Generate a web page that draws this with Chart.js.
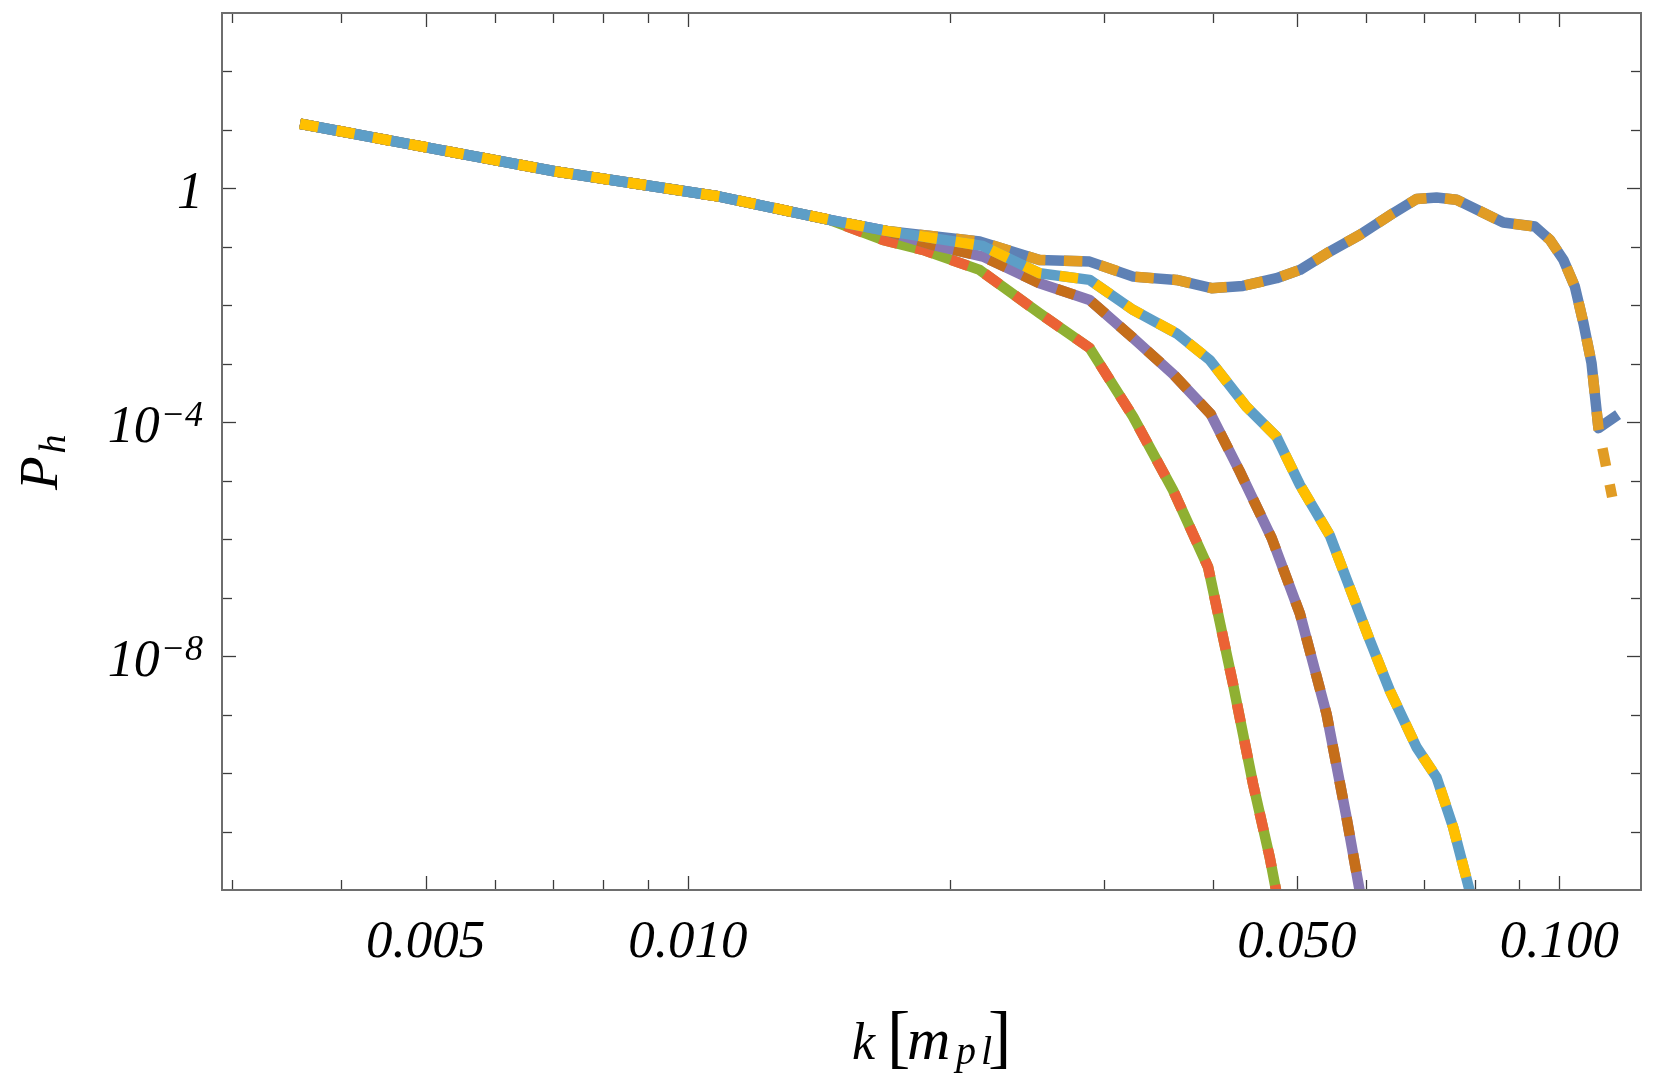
<!DOCTYPE html>
<html>
<head>
<meta charset="utf-8">
<script src="https://cdn.jsdelivr.net/npm/chart.js@4.4.1/dist/chart.umd.min.js"></script>
<style>
html,body{margin:0;padding:0;background:#fff;overflow:hidden}
canvas{display:block}
</style>
</head>
<body>
<canvas id="c" width="1661" height="1086"></canvas>
<script>
// ---- data (k in m_pl, P_h) ----
const kA = [0.003589, 0.005048, 0.007057, 0.010869, 0.014540, 0.016890, 0.021620, 0.025330, 0.028910, 0.032430, 0.036360, 0.039890, 0.043340, 0.047370, 0.050390, 0.054530, 0.059030, 0.064480, 0.068580, 0.072300, 0.076240, 0.086250, 0.093780, 0.097560, 0.101100, 0.104200, 0.106600, 0.108900, 0.110900, 0.116800];
const pA_solid = [12.76, 4.94, 1.945, 0.726, 0.290, 0.1879, 0.1233, 0.05984, 0.05598, 0.03097, 0.02723, 0.01963, 0.02148, 0.02911, 0.04036, 0.08299, 0.1603, 0.3776, 0.6561, 0.6982, 0.6383, 0.2606, 0.2223, 0.1318, 0.05984, 0.02089, 0.004932, 0.001019, 7.94e-5, 1.349e-4];
const kA_dashed = [0.003589, 0.005048, 0.007057, 0.010869, 0.014540, 0.016890, 0.021620, 0.025330, 0.028910, 0.032430, 0.036360, 0.039890, 0.043340, 0.047370, 0.050390, 0.054530, 0.059030, 0.064480, 0.068580, 0.072300, 0.076240, 0.086250, 0.093780, 0.097560, 0.101100, 0.104200, 0.106600, 0.108900, 0.110900, 0.115000];
const pA_dashed = [12.76, 4.94, 1.945, 0.726, 0.290, 0.1879, 0.1233, 0.05984, 0.05598, 0.03097, 0.02723, 0.01963, 0.02148, 0.02911, 0.04036, 0.08299, 0.1603, 0.3776, 0.6561, 0.6982, 0.6383, 0.2606, 0.2223, 0.1318, 0.05984, 0.02089, 0.004932, 0.001019, 7.94e-5, 5.25e-6];

const kB = [0.003589, 0.005048, 0.007057, 0.010869, 0.014540, 0.016890, 0.021790, 0.025330, 0.028910, 0.032430, 0.036360, 0.039710, 0.043750, 0.047370, 0.050390, 0.054520, 0.060620, 0.063900, 0.068580, 0.072300, 0.075550, 0.078950, 0.080220];
const pB = [12.76, 4.94, 1.945, 0.726, 0.290, 0.1879, 0.1040, 0.03540, 0.02723, 0.008337, 0.003327, 0.001161, 1.841e-4, 5.636e-5, 8.5e-6, 1.169e-6, 1.858e-8, 2.588e-9, 2.767e-10, 8.47e-11, 1.180e-11, 9.46e-13, 2.455e-13];

const kC = [0.003589, 0.005048, 0.007057, 0.010869, 0.014540, 0.016890, 0.019090, 0.021810, 0.025330, 0.028910, 0.032430, 0.036040, 0.039810, 0.042970, 0.046780, 0.050390, 0.054060, 0.056990, 0.059030, 0.059830];
const pC = [12.76, 4.94, 1.945, 0.726, 0.290, 0.1879, 0.1081, 0.06823, 0.02388, 0.01236, 0.002761, 6.683e-4, 1.380e-4, 1.459e-5, 1.038e-6, 5.333e-8, 1.033e-9, 1.750e-11, 9.46e-13, 2.455e-13];

const kD = [0.003589, 0.005048, 0.007057, 0.010869, 0.014540, 0.016740, 0.018610, 0.021620, 0.025330, 0.028910, 0.032430, 0.036040, 0.039530, 0.042220, 0.044520, 0.046530, 0.048170];
const pD = [12.76, 4.94, 1.945, 0.726, 0.290, 0.1318, 0.0887, 0.04036, 0.007311, 0.001862, 1.242e-4, 6.887e-6, 3.350e-7, 3.373e-9, 6.531e-11, 3.614e-12, 2.455e-13];

// ---- axes ----
const xMin = 0.00292, xMax = 0.1241;
const yMin = 1e-12, yMax = 1e3;
const xMajorTicks = [0.005, 0.01, 0.05, 0.1];
const xTickLabels = ['0.005', '0.010', '0.050', '0.100'];
const xMinorTicks = [0.003, 0.004, 0.006, 0.007, 0.008, 0.009, 0.02, 0.03, 0.04, 0.06, 0.07, 0.08, 0.09];
const yMajorTicks = [1, 1e-4, 1e-8];
const yTickBases = ['1', '10', '10'];
const yTickExps = ['', '\u22124', '\u22128'];
const yMinorTicks = [1e2, 1e1, 1e-1, 1e-2, 1e-3, 1e-5, 1e-6, 1e-7, 1e-9, 1e-10, 1e-11];
const xTitle = ['k', '[', 'm', 'p', 'l', ']'];
const yTitle = ['P', 'h'];

const pts = (ks, ps) => ks.map((k, i) => ({x: k, y: ps[i]}));
const SERIF = "'Liberation Serif', 'Times New Roman', serif";

function ds(label, ks, ps, color, dashed) {
  return {
    label, data: pts(ks, ps), borderColor: color, backgroundColor: color,
    borderWidth: 10.5, borderDash: dashed ? [18.5, 18.5] : [], borderCapStyle: 'butt',
    borderJoinStyle: 'round', pointRadius: 0, tension: 0, fill: false, clip: 0
  };
}

const framePlugin = {
  id: 'mmaFrame',
  afterDatasetsDraw(chart) {
    const {ctx, chartArea: a, scales: {x, y}} = chart;
    ctx.save();
    const line = (x1, y1, x2, y2) => { ctx.beginPath(); ctx.moveTo(x1, y1); ctx.lineTo(x2, y2); ctx.stroke(); };
    ctx.strokeStyle = '#3c3c3c'; ctx.lineWidth = 1.3;
    const tx = (v, len) => { const p = Math.round(x.getPixelForValue(v)) + 0.5; line(p, a.bottom, p, a.bottom - len); line(p, a.top, p, a.top + len); };
    const ty = (v, len) => { const p = Math.round(y.getPixelForValue(v)) + 0.5; line(a.left, p, a.left + len, p); line(a.right, p, a.right - len, p); };
    xMinorTicks.forEach(v => tx(v, 10));
    xMajorTicks.forEach(v => tx(v, 14));
    yMinorTicks.forEach(v => ty(v, 10));
    yMajorTicks.forEach(v => ty(v, 14));
    ctx.strokeStyle = '#6e6e6e'; ctx.lineWidth = 2;
    ctx.strokeRect(a.left, a.top, a.right - a.left, a.bottom - a.top);

    ctx.fillStyle = '#000';
    // x tick labels
    ctx.font = 'italic 53px ' + SERIF;
    ctx.textAlign = 'center'; ctx.textBaseline = 'alphabetic';
    xMajorTicks.forEach((v, i) => ctx.fillText(xTickLabels[i], x.getPixelForValue(v), a.bottom + 67));
    // y tick labels
    ctx.textAlign = 'right';
    const rx = a.left - 19;
    yMajorTicks.forEach((v, i) => {
      const p = y.getPixelForValue(v);
      let w = 0;
      if (yTickExps[i]) {
        ctx.font = 'italic 36px ' + SERIF;
        ctx.fillText(yTickExps[i], rx, p + 4);
        w = ctx.measureText(yTickExps[i]).width + 1;
      }
      ctx.font = 'italic 52px ' + SERIF;
      ctx.fillText(yTickBases[i], rx - w, p + 20);
    });
    // x title: k [m_pl]
    ctx.textAlign = 'left';
    ctx.font = 'italic 52px ' + SERIF; ctx.fillText(xTitle[0], 852, 1059);
    ctx.font = '70px ' + SERIF; ctx.fillText(xTitle[1], 887, 1060);
    ctx.font = 'italic 60px ' + SERIF; ctx.fillText(xTitle[2], 907, 1059);
    ctx.font = 'italic 40px ' + SERIF; ctx.fillText(xTitle[3], 956, 1064); ctx.fillText(xTitle[4], 981, 1064);
    ctx.font = '70px ' + SERIF; ctx.fillText(xTitle[5], 988, 1060);
    // y title: P_h rotated
    ctx.translate(57, 490); ctx.rotate(-Math.PI / 2);
    ctx.font = 'italic 55px ' + SERIF; ctx.fillText(yTitle[0], 0, 0);
    const pw = ctx.measureText(yTitle[0]).width;
    ctx.font = 'italic 38px ' + SERIF; ctx.fillText(yTitle[1], pw + 3, 8);
    ctx.restore();
  }
};

new Chart(document.getElementById('c'), {
  type: 'line',
  data: {
    datasets: [
      ds('B dashed', kB, pB, '#FFBF00', true),
      ds('B', kB, pB, '#5D9EC7', false),
      ds('C dashed', kC, pC, '#C56E1A', true),
      ds('C', kC, pC, '#8778B3', false),
      ds('D dashed', kD, pD, '#EB6235', true),
      ds('D', kD, pD, '#8FB032', false),
      ds('A dashed', kA_dashed, pA_dashed, '#E19C24', true),
      ds('A', kA, pA_solid, '#5E81B5', false)
    ]
  },
  options: {
    responsive: false, animation: false, devicePixelRatio: 1,
    layout: {padding: {left: 222, right: 20, top: 13, bottom: 196}},
    plugins: {legend: {display: false}, tooltip: {enabled: false}},
    scales: {
      x: {type: 'logarithmic', min: xMin, max: xMax, display: false},
      y: {type: 'logarithmic', min: yMin, max: yMax, display: false}
    }
  },
  plugins: [framePlugin]
});
</script>
</body>
</html>
